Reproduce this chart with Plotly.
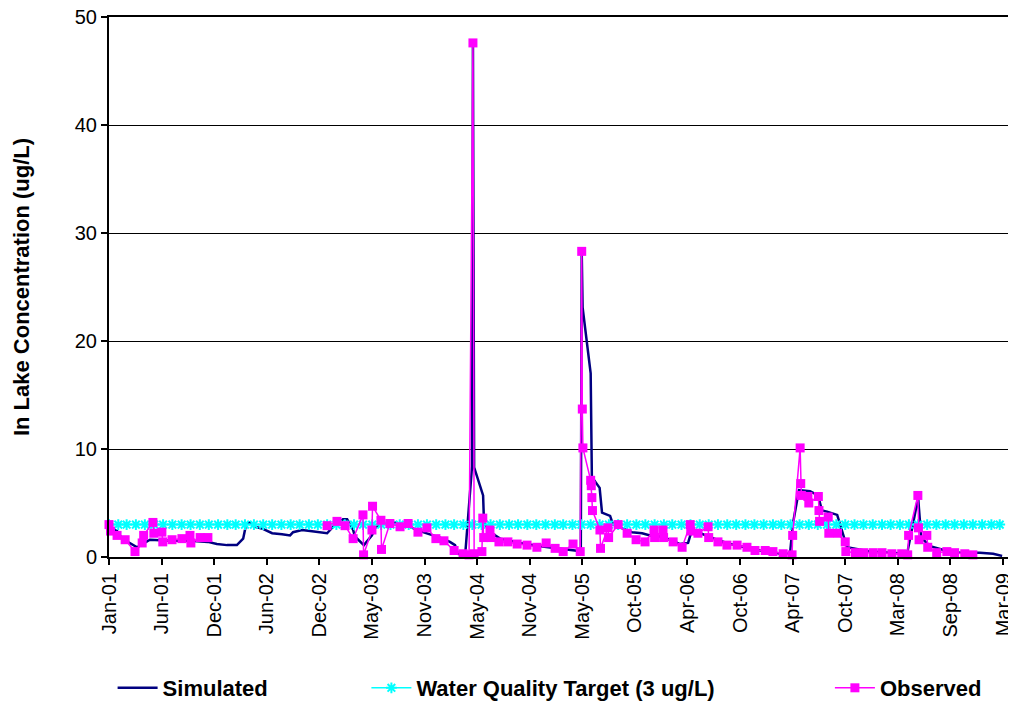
import plotly.graph_objects as go
import pandas as pd

# ---------------- data ----------------
sim_dates = [
    "2001-01-01", "2001-01-28", "2001-02-14", "2001-03-12", "2001-04-05", "2001-05-18",
    "2001-07-24", "2001-09-29", "2001-11-28", "2001-12-28", "2002-01-31", "2002-03-05",
    "2002-03-26", "2002-04-01", "2002-04-05", "2002-04-18", "2002-05-05", "2002-05-31",
    "2002-07-01", "2002-08-03", "2002-08-30", "2002-09-09", "2002-10-09", "2002-11-05",
    "2002-12-08", "2003-01-01", "2003-01-21", "2003-02-23", "2003-03-09", "2003-03-29",
    "2003-04-04", "2003-04-28", "2003-05-04", "2003-05-31", "2003-06-10", "2003-06-27",
    "2003-08-16", "2003-10-05", "2003-11-08", "2003-12-11", "2004-01-14", "2004-02-16",
    "2004-03-04", "2004-03-14", "2004-04-07", "2004-04-30", "2004-05-03", "2004-05-07",
    "2004-06-06", "2004-06-09", "2004-06-29", "2004-08-02", "2004-10-08", "2004-12-14",
    "2005-02-17", "2005-04-09", "2005-04-29", "2005-05-02", "2005-05-05", "2005-06-01",
    "2005-06-05", "2005-07-01", "2005-07-09", "2005-08-05", "2005-08-15", "2005-10-17",
    "2005-11-20", "2005-12-17", "2006-01-19", "2006-02-22", "2006-03-27", "2006-04-23",
    "2006-05-06", "2006-06-02", "2006-07-05", "2006-08-08", "2006-09-10", "2006-10-14",
    "2006-11-16", "2006-12-20", "2007-01-22", "2007-02-25", "2007-03-30", "2007-04-09",
    "2007-04-29", "2007-06-05", "2007-07-02", "2007-07-15", "2007-08-01", "2007-09-04",
    "2007-10-07", "2007-11-09", "2007-12-23", "2008-02-28", "2008-04-25", "2008-06-01",
    "2008-06-11", "2008-07-11", "2008-08-31", "2008-10-19", "2008-12-25", "2009-02-07",
    "2009-03-09",
]
sim_values = [
    2.7, 2.4, 1.7, 1.3, 0.9, 1.6,
    1.5, 1.5, 1.4, 1.2, 1.1, 1.1,
    1.7, 2.5, 3.1, 3.2, 2.8, 2.6,
    2.2, 2.1, 2.0, 2.3, 2.5, 2.4,
    2.3, 2.2, 2.8, 3.5, 3.5, 2.5,
    1.9, 1.3, 1.1, 2.0, 2.7, 3.0,
    3.2, 2.8, 2.4, 2.1, 1.8, 1.4,
    1.1, 0.3, 0.2, 8.4, 47.6, 8.3,
    5.7, 3.2, 2.3, 1.7, 1.3, 1.0,
    0.8, 0.6, 0.5, 28.3, 23.1, 17.0,
    7.4, 6.4, 4.1, 3.8, 3.0, 2.3,
    2.2, 2.0, 1.9, 1.6, 1.2, 1.3,
    2.5, 2.2, 1.9, 1.5, 1.2, 1.0,
    0.8, 0.6, 0.5, 0.3, 0.3, 3.1,
    6.2, 6.1, 5.7, 4.3, 4.2, 3.9,
    0.9, 0.7, 0.5, 0.4, 0.3, 5.5,
    1.8, 1.0, 0.6, 0.4, 0.4, 0.3,
    0.1,
]

obs_dates = [
    "2001-01-01", "2001-01-06", "2001-01-28", "2001-02-24", "2001-03-29", "2001-04-22",
    "2001-04-27", "2001-05-28", "2001-05-31", "2001-06-27", "2001-06-30", "2001-07-31",
    "2001-09-02", "2001-09-29", "2001-10-02", "2001-11-02", "2001-11-28",
    "2002-06-01",
    "2003-01-01", "2003-02-03", "2003-03-02", "2003-03-29", "2003-05-01", "2003-05-03",
    "2003-05-31", "2003-06-02", "2003-06-30", "2003-07-02", "2003-07-30", "2003-09-02",
    "2003-09-29", "2003-11-01", "2003-12-01", "2003-12-31", "2004-01-27", "2004-03-01",
    "2004-03-31", "2004-04-20", "2004-05-03", "2004-05-07", "2004-06-02", "2004-06-05",
    "2004-06-08", "2004-06-29", "2004-07-02", "2004-07-29", "2004-08-28", "2004-09-28",
    "2004-10-31", "2004-12-03", "2005-01-03", "2005-02-02", "2005-03-01", "2005-04-03",
    "2005-04-27", "2005-05-02", "2005-05-04", "2005-05-06", "2005-06-01", "2005-06-03",
    "2005-06-05", "2005-06-07", "2005-07-02", "2005-07-04", "2005-07-29", "2005-07-31",
    "2005-09-01", "2005-10-01", "2005-10-31", "2005-11-30", "2005-12-30", "2006-01-01",
    "2006-01-29", "2006-01-31", "2006-03-04", "2006-04-03", "2006-04-30", "2006-05-02",
    "2006-05-26", "2006-06-29", "2006-07-01", "2006-08-01", "2006-08-31", "2006-10-04",
    "2006-11-06", "2006-12-03", "2007-01-06", "2007-02-01", "2007-03-07", "2007-04-06",
    "2007-04-08", "2007-05-03", "2007-05-05", "2007-05-07", "2007-05-29", "2007-06-01",
    "2007-07-03", "2007-07-05", "2007-07-07", "2007-08-05", "2007-08-07", "2007-09-05",
    "2007-10-01", "2007-10-03", "2007-11-04", "2007-12-01", "2008-01-02", "2008-02-01",
    "2008-03-05", "2008-04-07", "2008-04-27", "2008-04-30", "2008-05-31", "2008-06-02",
    "2008-06-04", "2008-06-30", "2008-07-03", "2008-08-02", "2008-09-05", "2008-10-01",
    "2008-11-04", "2008-12-01",
]
obs_values = [
    3.0, 2.4, 2.0, 1.6, 0.5, 1.3,
    2.0, 3.2, 2.2, 2.3, 1.4, 1.6,
    1.7, 2.0, 1.3, 1.8, 1.8,
    None,
    2.9, 3.3, 2.9, 1.7, 3.9, 0.2,
    2.5, 4.7, 3.4, 0.7, 3.1, 2.8,
    3.1, 2.3, 2.7, 1.7, 1.5, 0.6,
    0.3, 0.2, 47.6, 0.3, 0.5, 3.6,
    1.8, 2.5, 1.8, 1.4, 1.4, 1.2,
    1.1, 0.9, 1.3, 0.8, 0.5, 1.2,
    0.5, 28.3, 13.7, 10.1, 7.1, 6.6,
    5.5, 4.3, 2.5, 0.8, 2.7, 1.8,
    3.0, 2.2, 1.6, 1.4, 2.5, 1.8,
    2.5, 1.8, 1.4, 0.9, 3.0, 2.4,
    2.2, 2.8, 1.8, 1.4, 1.1, 1.1,
    0.9, 0.6, 0.6, 0.5, 0.3, 0.2,
    2.0, 10.1, 6.8, 5.7, 5.6, 5.0,
    5.6, 4.3, 3.3, 3.7, 2.2, 2.2,
    1.4, 0.5, 0.4, 0.4, 0.4, 0.4,
    0.3, 0.3, 0.2, 2.0, 5.7, 2.7,
    1.6, 2.0, 0.9, 0.4, 0.5, 0.4,
    0.3, 0.2,
]

target_value = 3.0
target_dates = pd.date_range("2001-01-01", "2009-03-01", freq="MS")
target_values = [target_value] * len(target_dates)

series_names = ["Simulated", "Water Quality Target (3 ug/L)", "Observed"]
y_title = "In Lake Concentration (ug/L)"

# ---------------- figure ----------------
FONT = "Arial, Liberation Sans, sans-serif"

fig = go.Figure()
fig.add_trace(go.Scatter(
    x=sim_dates, y=sim_values, name=series_names[0], mode="lines",
    line=dict(color="#000080", width=2.5), legend="legend",
))
fig.add_trace(go.Scatter(
    x=target_dates, y=target_values, name=series_names[1], mode="lines+markers",
    line=dict(color="#00FFFF", width=1.5),
    marker=dict(symbol="asterisk", size=9, color="#00FFFF",
                line=dict(color="#00FFFF", width=2)),
    legend="legend2",
))
fig.add_trace(go.Scatter(
    x=obs_dates, y=obs_values, name=series_names[2], mode="lines+markers",
    line=dict(color="#FF00FF", width=1.5),
    marker=dict(symbol="square", size=9, color="#FF00FF"),
    connectgaps=False, cliponaxis=False, legend="legend3",
))

legend_common = dict(
    orientation="h", yanchor="middle", y=-0.2426, xanchor="left",
    font=dict(family=FONT, size=22, color="black", weight="bold"),
    bgcolor="rgba(0,0,0,0)", borderwidth=0, itemwidth=40,
)

# the page body has an 8px margin, so the figure is 8px smaller than the window
fig.update_layout(
    width=1008, height=698,
    margin=dict(l=101, r=7, t=9, b=149, autoexpand=False),
    paper_bgcolor="white", plot_bgcolor="white",
    font=dict(family=FONT, color="black"),
    showlegend=True,
    legend=dict(legend_common, x=0.004),
    legend2=dict(legend_common, x=0.286),
    legend3=dict(legend_common, x=0.801),
    xaxis=dict(
        type="date", range=["2001-01-01", "2009-04-01"], automargin=False,
        tick0="2001-01-01", dtick=176 * 86400000, tickformat="%b-%y",
        tickangle=-90, ticks="outside", ticklen=6, tickwidth=1.5, tickcolor="black",
        showline=True, linecolor="black", linewidth=2, mirror=True,
        showgrid=False, zeroline=False, ticklabeloverflow="allow",
        tickfont=dict(family=FONT, size=20, color="black"),
    ),
    yaxis=dict(
        range=[0, 50], dtick=10, automargin=False,
        ticks="outside", ticklen=6, tickwidth=1.5, tickcolor="black",
        showline=True, linecolor="black", linewidth=2, mirror=True,
        showgrid=True, gridcolor="black", gridwidth=1, zeroline=False,
        ticklabeloverflow="allow",
        tickfont=dict(family=FONT, size=20, color="black"),
        title=dict(text=y_title, standoff=39,
                   font=dict(family=FONT, size=22, color="black", weight="bold")),
    ),
)

fig.write_html("out.html")
